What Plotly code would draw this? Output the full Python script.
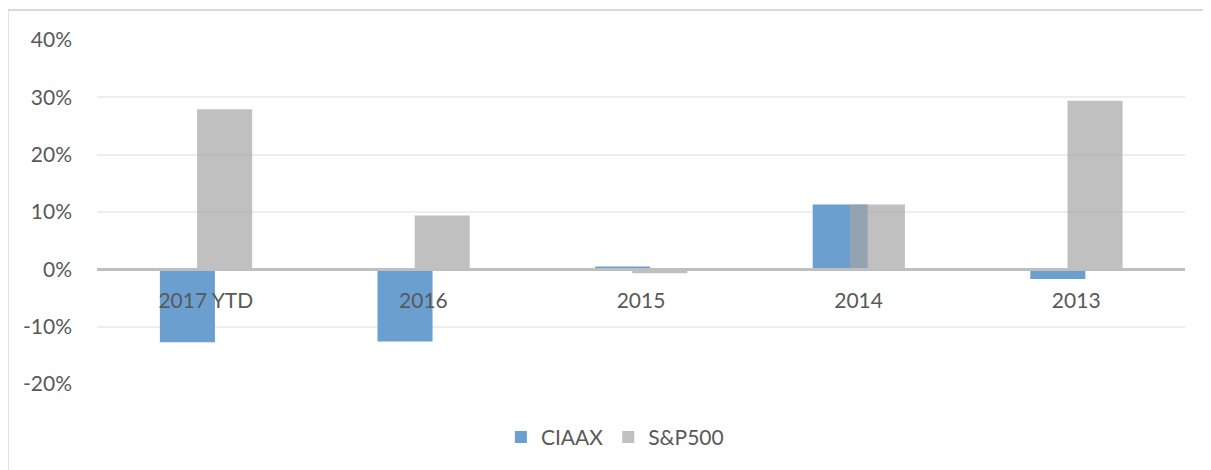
import plotly.graph_objects as go

years = ["2017 YTD", "2016", "2015", "2014", "2013"]
ciaax = [-12.7, -12.6, 0.5, 11.3, -1.7]
sp500 = [27.9, 9.4, -0.7, 11.3, 29.4]
y_ticks = [-20, -10, 0, 10, 20, 30, 40]
y_labels = [f"{v}%" for v in y_ticks]

font = "Lato, 'Open Sans', sans-serif"
grey_txt = "#595959"

fig = go.Figure()
fig.add_trace(go.Bar(x=years, y=ciaax, name="CIAAX",
                     marker=dict(color="rgb(106,159,208)", line=dict(width=0)),
                     width=0.253, offset=-0.211))
fig.add_trace(go.Bar(x=years, y=sp500, name="S&P500",
                     marker=dict(color="rgba(165,165,165,0.7)", line=dict(width=0)),
                     width=0.253, offset=-0.040))

# page has an 8px body margin, margins below compensate
fig.update_layout(
    width=1211, height=470,
    barmode="overlay",
    paper_bgcolor="white", plot_bgcolor="white",
    margin=dict(l=89, r=34, t=32, b=94),
    font=dict(family=font, size=21, color=grey_txt),
    legend=dict(orientation="h", x=0.476, xanchor="center", y=-0.155, yanchor="middle",
                font=dict(size=21, color=grey_txt), itemwidth=30, traceorder="normal"),
    xaxis=dict(type="category", anchor="free", position=1/3, showline=True,
               linecolor="#BFBFBF", linewidth=2.5, showgrid=False, ticks="",
               ticklabelstandoff=12, tickfont=dict(size=21, color=grey_txt)),
    yaxis=dict(range=[-20, 40], tickvals=y_ticks, ticktext=y_labels, showgrid=True,
               gridcolor="#EEEEEE", gridwidth=1.5, zeroline=False, showline=False,
               ticks="", ticklabelstandoff=24, tickfont=dict(size=21, color=grey_txt)),
    shapes=[
        dict(type="line", xref="paper", yref="paper", x0=-0.082, x1=1.05, y0=1.0872, y1=1.0872,
             line=dict(color="#D9D9D9", width=2)),
        dict(type="line", xref="paper", yref="paper", x0=-0.082, x1=-0.082, y0=1.0872, y1=-0.3,
             line=dict(color="#D9D9D9", width=2)),
    ],
)

fig.write_html("out.html")
